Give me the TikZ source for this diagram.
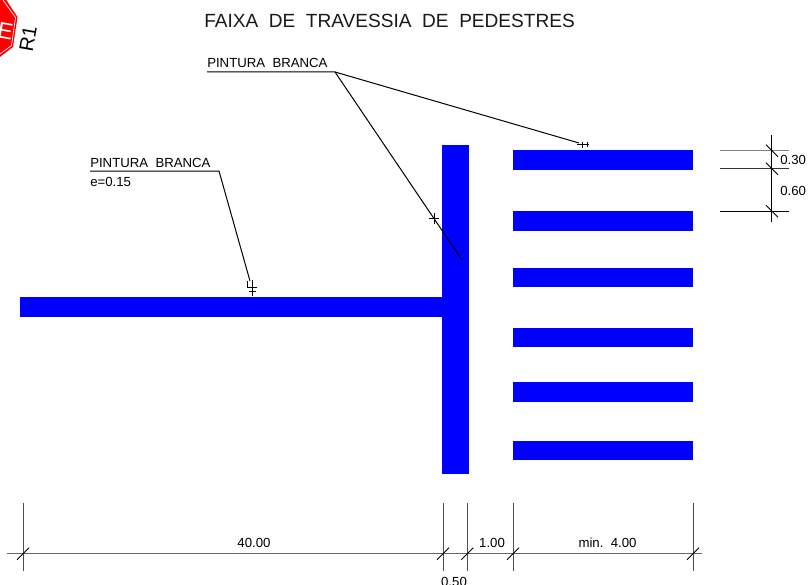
\documentclass[tikz,border=0pt]{standalone}
\usepackage{fontspec}
\setmainfont{Liberation Sans}
\begin{document}
\begin{tikzpicture}[x=0.75pt,y=-0.75pt,
  paint/.style={fill=blue,draw=none},
  ink/.style={draw=black,line width=0.75pt},
  dimline/.style={draw=black!60,line width=0.9pt},
  tick/.style={draw=black,line width=0.7pt},
  lbl/.style={inner sep=0pt,font=\fontsize{9.9}{11}\selectfont,text=black},
]
\useasboundingbox (0,0) rectangle (810,585);
% stop sign
\begin{scope}
\clip (0,0) rectangle (810,585);
\fill[red] (-5,-5) -- (3,-5) -- (17.5,17) -- (13,47) -- (0,57) -- (-5,57) -- cycle;
\draw[white,line width=0.5pt] (3,0) -- (15.5,17.5) -- (11.5,45.5) -- (0,54);
\node[rotate=-10,text=white,inner sep=0pt,font=\fontsize{17}{17}\selectfont] (signtext) at (5.5,31) {E};
\end{scope}
\node[rotate=80,inner sep=0pt,font=\fontsize{15}{15}\selectfont] (rone) at (28,38.5) {R1};
% title
\node[inner sep=0pt,font=\fontsize{14.3}{15}\selectfont,text=black!90] (title) at (389.5,20.5) {FAIXA\ \ DE\ \ TRAVESSIA\ \ DE\ \ PEDESTRES};
% painted bands
\fill[paint] (20,297) rectangle (443,317);
\fill[paint] (442,145) rectangle (469,474);
\foreach \ya/\yb in {150/170,211/231,268/287,328/347,382/402,441/460}
  \fill[paint] (512.5,\ya) rectangle (693,\yb);
% leaders
\coordinate (la) at (90,171);
\coordinate (lb) at (219,171);
\coordinate (lc) at (250,281);
\draw[ink] (la) -- (lb) -- (lc);
\coordinate (ta) at (207,72);
\coordinate (tb) at (335,72);
\coordinate (tc) at (462,260);
\coordinate (td) at (579,143);
\draw[ink] (ta) -- (tb) -- (tc);
\draw[ink] (tb) -- (td);
% leader markers
\draw[tick] (247,287) -- (257,287) (252.5,280) -- (252.5,296) (247,281) -- (247,287);
\draw[tick] (249,291.5) -- (256,291.5);
\draw[tick] (429,218.5) -- (439,218.5) (434,213) -- (434,224);
\draw[tick] (577,144.5) -- (589,144.5) (582,142) -- (582,148) (587,142) -- (587,147);
% right dimension
\coordinate (ra) at (771.7,135);
\coordinate (rb) at (771.7,221.5);
\draw[ink] (ra) -- (rb);
\draw[dimline,draw=black!50] (720,150.7) -- (789,150.7);
\draw[ink,draw=black!80] (720,168.7) -- (789,168.7);
\draw[ink] (720,211.3) -- (789,211.3);
\foreach \y in {150.7,168.7,211.3}
  \draw[tick] (766,\y-6) -- (778,\y+6);
\node[lbl,anchor=west] (d30) at (780,160) {0.30};
\node[lbl,anchor=west] (d60) at (780,190.5) {0.60};
% bottom dimension
\coordinate (ba) at (7,553.7);
\coordinate (bb) at (702,553.7);
\draw[dimline] (ba) -- (bb);
\foreach \x in {23,443,467.3,513,693}{
  \draw[ink,draw=black!70] (\x,503) -- (\x,570.5);
  \draw[tick] (\x-6,559.7) -- (\x+6,547.7);
}
\node[lbl] (d40) at (254,542.5) {40.00};
\node[lbl] (d1) at (492,543) {1.00};
\node[lbl] (d4) at (607.5,543) {min.\ \ 4.00};
\node[lbl] (d05) at (454,582) {0.50};
% leader texts
\node[lbl,anchor=base west] (p1) at (90,167) {PINTURA\ \ BRANCA};
\node[lbl,anchor=base west] (e1) at (90,186) {e=0.15};
\node[lbl,anchor=base west] (p2) at (207,68) {PINTURA\ \ BRANCA};
\end{tikzpicture}
\end{document}
